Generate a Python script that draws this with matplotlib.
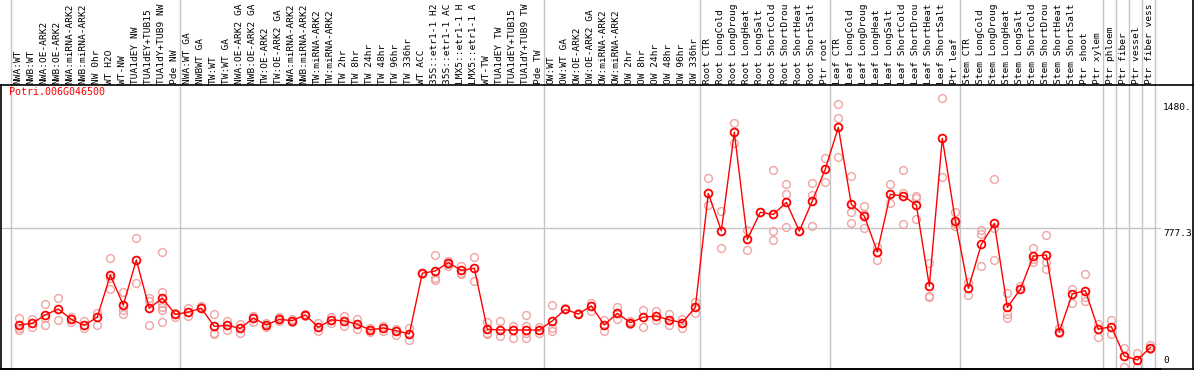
import matplotlib
matplotlib.use("Agg")
import numpy as np
import matplotlib.pyplot as plt
from matplotlib.lines import Line2D
import matplotlib.transforms as mtransforms

title = "Potri.006G046500"

samples = [
    "NWA:WT", "NWB:WT", "NWA:OE-ARK2", "NWB:OE-ARK2", "NWA:miRNA-ARK2",
    "NWB:miRNA-ARK2", "NW 0hr", "WT H2O", "WT-NW", "TUA1dEY NW",
    "TUA1dEY+TUB15 ", "TUA1dY+TUB9 NW", "Pde NW",
    "NWA:WT GA", "NWBWT GA", "TW:WT", "TW:WT GA", "NWA:OE-ARK2 GA",
    "NWB:OE-ARK2 GA", "TW:OE-ARK2", "TW:OE-ARK2 GA", "NWA:miRNA-ARK2",
    "NWB:miRNA-ARK2", "TW:miRNA-ARK2", "TW:miRNA-ARK2", "TW 2hr", "TW 8hr",
    "TW 24hr", "TW 48hr", "TW 96hr", "TW 336hr", "WT ACC", "35S::etr1-1 H2",
    "35S::etr1-1 AC", "LMX5::etr1-1 H", "LMX5::etr1-1 A", "WT-TW",
    "TUA1dEY TW", "TUA1dEY+TUB15 ", "TUA1dY+TUB9 TW", "Pde TW",
    "OW:WT", "OW:WT GA", "OW:OE-ARK2", "OW:OE-ARK2 GA", "OW:miRNA-ARK2",
    "OW:miRNA-ARK2", "OW 2hr", "OW 8hr", "OW 24hr", "OW 48hr", "OW 96hr",
    "OW 336hr",
    "Root CTR", "Root LongCold", "Root LongDroug", "Root LongHeat",
    "Root LongSalt", "Root ShortCold", "Root ShortDrou", "Root ShortHeat",
    "Root ShortSalt", "Ptr root",
    "Leaf CTR", "Leaf LongCold", "Leaf LongDroug", "Leaf LongHeat",
    "Leaf LongSalt", "Leaf ShortCold", "Leaf ShortDrou", "Leaf ShortHeat",
    "Leaf ShortSalt", "Ptr leaf",
    "Stem CTR", "Stem LongCold", "Stem LongDroug", "Stem LongHeat",
    "Stem LongSalt", "Stem ShortCold", "Stem ShortDrou", "Stem ShortHeat",
    "Stem ShortSalt", "Ptr shoot", "Ptr xylem",
    "Ptr phloem", "Ptr fiber", "Ptr vessel", "Ptr fiber vess",
]

# number of samples in each separated block
group_sizes = [13, 28, 12, 10, 10, 11, 1, 1, 1, 1]

means = [
    237, 246, 293, 326, 268, 235, 281, 515, 348, 599, 330, 387, 296,
    309, 330, 229, 235, 218, 276, 237, 268, 261, 293, 224, 265, 260, 241,
    209, 220, 205, 187, 525, 538, 584, 541, 553, 213, 209, 209, 209, 209,
    260, 324, 298, 343, 237, 302, 250, 280, 287, 265, 250, 335,
    970, 762, 1310, 714, 865, 853, 920, 760, 928, 1106,
    1338, 909, 844, 644, 965, 956, 905, 454, 1277, 818,
    441, 686, 803, 335, 436, 621, 627, 200, 410, 428, 213,
    228, 64, 42, 111,
]

replicates = [
    [274, 219, 209], [268, 224], [352, 278, 235], [385, 265], [283, 252],
    [261, 219], [306, 235], [608, 497, 436], [419, 320, 296], [720, 469],
    [385, 371, 235], [642, 423, 358, 339, 320, 255], [306, 283],
    [330, 287], [343, 335], [298, 194, 186], [261, 209], [242, 194],
    [287, 255], [246, 228], [280, 261], [268, 255], [300, 285], [246, 205],
    [283, 250], [287, 231], [272, 217], [219, 200], [231, 202], [213, 181],
    [222, 153], [528, 521], [627, 497, 488], [595, 577, 566],
    [566, 528, 521], [614, 484], [255, 190, 186], [259, 176], [231, 163],
    [291, 231, 190, 163], [228, 194],
    [348, 218, 205], [330], [306], [361, 317], [265, 205], [335, 268],
    [258, 242], [320, 224], [317, 265], [296, 237], [268, 222], [365, 306],
    [1054, 905], [872, 664], [1364, 1253], [766, 653], [868],
    [1100, 761, 709], [1020, 965, 781], [760], [1026, 961, 788],
    [1165, 1032],
    [1468, 1388, 1171], [1065, 868, 803], [900, 855, 779], [673, 599],
    [1022, 915], [1100, 970, 798], [956, 943, 828], [580, 400, 391],
    [1500, 1060], [868, 803, 790],
    [474, 404], [766, 744, 566], [1048, 775, 599], [417, 298, 278], [454],
    [664, 603, 586], [738, 586, 547], [222, 190], [436, 358],
    [521, 391, 372], [242, 172],
    [265, 185], [107, 0], [79, 0], [125, 101],
]

ytick_values = [0, 777.3, 1480]
ytick_labels = ["0", "777.3", "1480."]

W, H = 1194, 370
fig = plt.figure(figsize=(W / 100, H / 100), dpi=100)
ax_left, ax_right, ax_top, ax_bottom = 1, 1161, 85.3, 369
ax = fig.add_axes([ax_left / W, (H - ax_bottom) / H,
                   (ax_right - ax_left) / W, (ax_bottom - ax_top) / H])

x = np.arange(len(samples))
ax.set_xlim(-1.408, 87.82)
ax.set_ylim(-8.4, 1572.4)
ax.set_xticks([])
ax.set_yticks([])
for s in ["top", "right"]:
    ax.spines[s].set_visible(False)
for s in ["left", "bottom"]:
    ax.spines[s].set_linewidth(1.2)
    ax.spines[s].set_color("black")

grid_c = "#c4c4c4"
# horizontal grid line at the middle tick
ax.axhline(ytick_values[1], color=grid_c, lw=1, zorder=0)

# vertical separators between blocks, running up through the label band
bounds = np.concatenate([[0], np.cumsum(group_sizes)])
ymax_fig = 1 + ax_top / (ax_bottom - ax_top)
for b in bounds:
    ax.axvline(b - 1 + 0.36, ymin=0, ymax=ymax_fig, color=grid_c, lw=1,
               zorder=0, clip_on=False)

# replicate points
rx = [i for i, r in enumerate(replicates) for _ in r]
ry = [v for r in replicates for v in r]
ax.plot(rx, ry, linestyle="none", marker="o", ms=5.6, mfc="none",
        mec="#f0a4a4", mew=1.0, zorder=2)

# mean line and points
ax.plot(x, means, color="red", lw=1, marker="o", ms=5.6, mfc="none",
        mec="red", mew=1.3, zorder=3)

mono = "DejaVu Sans Mono"
ax.text(8 / (ax_right - ax_left), 1 - 1.5 / (ax_bottom - ax_top), title,
        transform=ax.transAxes, color="red", fontsize=7.2, family=mono,
        ha="left", va="top")

# sample labels above the plot
trans = mtransforms.blended_transform_factory(ax.transData, ax.transAxes)
off = mtransforms.offset_copy(trans, fig=fig, x=-1, y=1.5, units="dots")
for i, lab in enumerate(samples):
    ax.text(i, 1, lab, transform=off, rotation=90, ha="center", va="bottom",
            fontsize=6.8, family=mono, color="black")

# value labels on the right
ytrans = mtransforms.blended_transform_factory(ax.transAxes, ax.transData)
for v, lab in zip(ytick_values, ytick_labels):
    va = "bottom" if v == 0 else "top"
    yo = 2 if v == 0 else -1
    t = mtransforms.offset_copy(ytrans, fig=fig, x=2, y=yo, units="dots")
    ax.text(1, v, lab, transform=t, ha="left", va=va, fontsize=6.8,
            family=mono, color="black")

# frame lines across the whole figure
fig.add_artist(Line2D([0, 1], [(H - ax_top) / H] * 2, color="black", lw=1.2,
                      transform=fig.transFigure))
fig.add_artist(Line2D([0, 1], [(H - ax_bottom) / H] * 2, color="black", lw=1.2,
                      transform=fig.transFigure))
fig.add_artist(Line2D([(W - 1) / W] * 2, [0, 1], color="black", lw=1.2,
                      transform=fig.transFigure))

fig.savefig("out.png", dpi=100)
